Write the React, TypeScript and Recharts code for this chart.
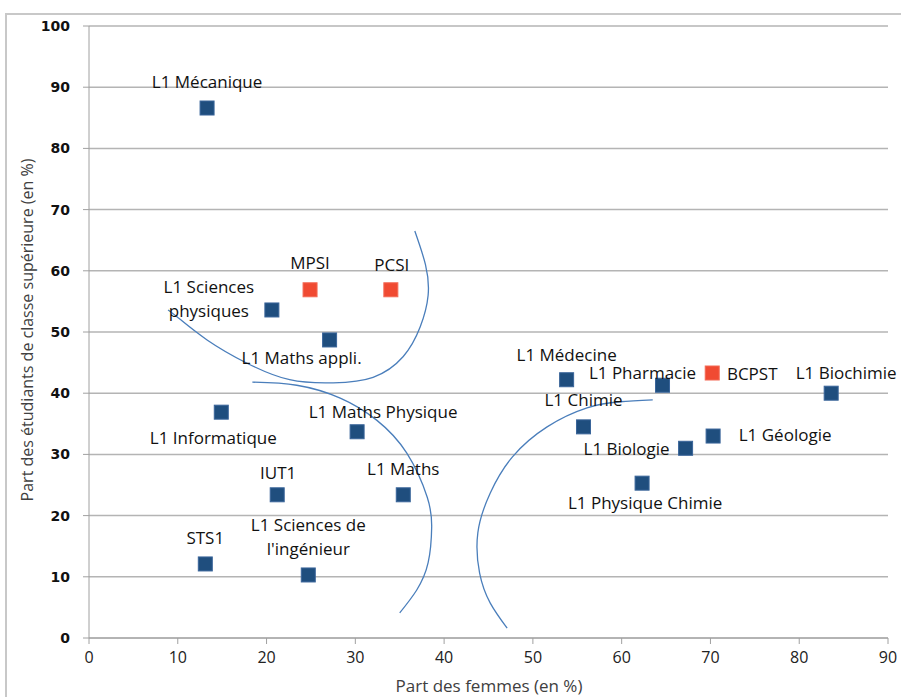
import { ScatterChart, Scatter, XAxis, YAxis, CartesianGrid } from "recharts"

// filières : part des femmes (x) et part d'étudiants de classe sup (y)
const names = [
  "L1 Mécanique", "MPSI", "PCSI", "L1 Sciences\nphysiques", "L1 Maths appli.",
  "L1 Informatique", "L1 Maths Physique", "IUT1", "L1 Maths", "STS1",
  "L1 Sciences de\nl'ingénieur", "L1 Médecine", "L1 Pharmacie", "BCPST",
  "L1 Biochimie", "L1 Chimie", "L1 Géologie", "L1 Biologie", "L1 Physique Chimie",
]
const femmes = [13.3, 24.9, 34.0, 20.6, 27.1, 14.9, 30.2, 21.2, 35.4, 13.1, 24.7, 53.8, 64.6, 70.2, 83.6, 55.7, 70.3, 67.2, 62.3]
const classeSup = [86.6, 56.9, 56.9, 53.6, 48.7, 36.9, 33.7, 23.4, 23.4, 12.1, 10.3, 42.2, 41.3, 43.3, 40.0, 34.5, 33.0, 31.0, 25.3]
const prepa = ["MPSI", "PCSI", "BCPST"]

// arcs tracés à la main sur le graphique
const arc1x = [36.7, 37.9, 38.2, 37.3, 35.4, 32.0, 27.5, 22.6, 17.8, 13.3, 9.9, 8.9]
const arc1y = [66.5, 61.0, 56.0, 50.8, 46.0, 42.6, 41.7, 42.2, 44.9, 48.7, 52.5, 53.6]
const arc2x = [18.4, 23.4, 28.3, 32.4, 35.8, 38.1, 38.6, 38.2, 36.9, 35.0]
const arc2y = [41.8, 41.3, 39.2, 35.6, 30.2, 23.0, 18.1, 12.3, 7.8, 4.1]
const arc3x = [63.5, 59.8, 56.1, 51.6, 47.7, 45.2, 43.8, 44.0, 45.2, 47.1]
const arc3y = [38.9, 38.6, 37.6, 34.5, 29.6, 23.7, 17.2, 10.6, 5.7, 1.6]

const xTicks = [0, 10, 20, 30, 40, 50, 60, 70, 80, 90]
const yTicks = [0, 10, 20, 30, 40, 50, 60, 70, 80, 90, 100]

// décalage des étiquettes par rapport au point (px)
const labelPos: Record<string, [number, number]> = {
  "L1 Mécanique": [0, -27],
  MPSI: [0, -27],
  PCSI: [1, -25],
  "L1 Sciences\nphysiques": [-63, -23],
  "L1 Maths appli.": [-28, 18],
  "L1 Informatique": [-8, 25],
  "L1 Maths Physique": [26, -20],
  IUT1: [1, -22],
  "L1 Maths": [0, -26],
  STS1: [0, -26],
  "L1 Sciences de\nl'ingénieur": [0, -50],
  "L1 Médecine": [0, -25],
  "L1 Pharmacie": [-20, -13],
  BCPST: [40, 0],
  "L1 Biochimie": [15, -21],
  "L1 Chimie": [0, -27],
  "L1 Géologie": [72, -2],
  "L1 Biologie": [-59, 0],
  "L1 Physique Chimie": [3, 19],
}

const points = names.map((name, i) => ({ name, x: femmes[i], y: classeSup[i] }))
const blue = points.filter((p) => !prepa.includes(p.name))
const red = points.filter((p) => prepa.includes(p.name))
const toXY = (xs: number[], ys: number[]) => xs.map((x, i) => ({ x, y: ys[i] }))

const font = "'Open Sans', sans-serif"

const Marker = (color: string, edge: string) => (props: any) => {
  const { cx, cy, payload } = props
  const [dx, dy] = labelPos[payload.name] || [0, -25]
  const lines = payload.name.split("\n")
  return (
    <g>
      <rect x={cx - 7} y={cy - 7} width={14} height={14} fill={color} stroke={edge} strokeWidth={1} />
      {lines.map((l: string, k: number) => (
        <text
          key={k}
          x={cx + dx}
          y={cy + dy + k * 24}
          textAnchor="middle"
          dominantBaseline="central"
          fontFamily={font}
          fontSize={17}
          fill="#111"
        >
          {l}
        </text>
      ))}
    </g>
  )
}

const NoDot = () => <g />

export default function App() {
  return (
    <div style={{ position: "absolute", left: 0, top: 0, width: 901, height: 697, overflow: "hidden", background: "#fff" }}>
      <div style={{ position: "absolute", left: 5, top: 13, width: 1000, height: 800, border: "2px solid #c8c8c8" }} />
      <div style={{ position: "absolute", left: 0, top: 0 }}>
        <ScatterChart width={901} height={697} margin={{ top: 26, right: 13, bottom: 0, left: 0 }}>
          <CartesianGrid vertical={false} stroke="#b4b4b4" strokeWidth={1.5} />
          <XAxis
            type="number"
            dataKey="x"
            domain={[0, 90]}
            ticks={xTicks}
            height={59}
            stroke="#a0a0a0"
            tickSize={6}
            tickMargin={8}
            tick={{ fontFamily: font, fontSize: 16, fill: "#222" }}
          />
          <YAxis
            type="number"
            dataKey="y"
            domain={[0, 100]}
            ticks={yTicks}
            width={89}
            stroke="#a0a0a0"
            tickSize={6}
            tickMargin={13}
            tick={{ fontFamily: "'DejaVu Sans', sans-serif", fontSize: 14, fontWeight: "bold", fill: "#111" }}
          />
          <Scatter data={toXY(arc1x, arc1y)} shape={NoDot} line={{ stroke: "#4a7ebb", strokeWidth: 1.3 }} lineJointType="natural" isAnimationActive={false} />
          <Scatter data={toXY(arc2x, arc2y)} shape={NoDot} line={{ stroke: "#4a7ebb", strokeWidth: 1.3 }} lineJointType="natural" isAnimationActive={false} />
          <Scatter data={toXY(arc3x, arc3y)} shape={NoDot} line={{ stroke: "#4a7ebb", strokeWidth: 1.3 }} lineJointType="natural" isAnimationActive={false} />
          <Scatter data={blue} shape={Marker("#1f4e7e", "#3a659a")} isAnimationActive={false} />
          <Scatter data={red} shape={Marker("#f04a32", "#f36a55")} isAnimationActive={false} />
        </ScatterChart>
      </div>
      <svg width={901} height={697} style={{ position: "absolute", left: 0, top: 0, pointerEvents: "none" }}>
        <text x={489} y={685} textAnchor="middle" dominantBaseline="central" fontFamily={font} fontSize={17} fill="#404040">
          Part des femmes (en %)
        </text>
        <text
          x={27}
          y={330}
          textAnchor="middle"
          dominantBaseline="central"
          fontFamily={font}
          fontSize={16}
          fill="#404040"
          transform="rotate(-90 27 330)"
        >
          Part des étudiants de classe supérieure (en %)
        </text>
      </svg>
    </div>
  )
}
